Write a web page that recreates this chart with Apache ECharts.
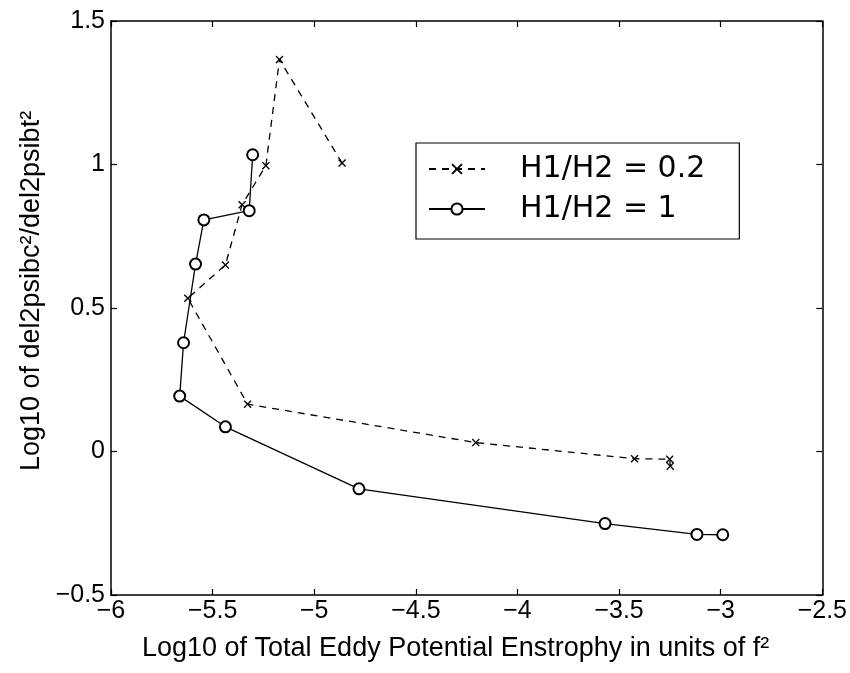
<!DOCTYPE html>
<html>
<head>
<meta charset="utf-8">
<script src="https://cdn.jsdelivr.net/npm/echarts@6/dist/echarts.min.js"></script>
<style>html,body{margin:0;padding:0;background:#fff}#c{width:850px;height:673px}</style>
</head>
<body>
<div id="c"></div>
<script>
// ---- data ----
const seriesNames = ['H1/H2 = 0.2', 'H1/H2 = 1'];
const dashX = [-4.863, -5.171, -5.238, -5.355, -5.437, -5.622, -5.328, -4.205, -3.424, -3.251, -3.248];
const dashY = [1.005, 1.366, 0.996, 0.860, 0.650, 0.534, 0.165, 0.031, -0.025, -0.027, -0.051];
const solidX = [-5.303, -5.320, -5.543, -5.584, -5.643, -5.662, -5.437, -4.78, -3.569, -3.117, -2.99];
const solidY = [1.034, 0.839, 0.807, 0.653, 0.379, 0.193, 0.086, -0.13, -0.251, -0.289, -0.29];
const xTicks = [-6, -5.5, -5, -4.5, -4, -3.5, -3, -2.5];
const yTicks = [-0.5, 0, 0.5, 1, 1.5];
const xTitle = 'Log10 of Total Eddy Potential Enstrophy in units of f\u00B2';
const yTitle = 'Log10 of del2psibc\u00B2/del2psibt\u00B2';

const pair = (xs, ys) => xs.map((x, i) => [x, ys[i]]);
const fmt = v => String(v).replace('-', '\u2212');
const FONT = 'Liberation Sans';
const xMark = 'path://M0,1.2 L1.2,0 L5,3.8 L8.8,0 L10,1.2 L6.2,5 L10,8.8 L8.8,10 L5,6.2 L1.2,10 L0,8.8 L3.8,5 Z';

const axisCommon = {
  axisLine: {onZero: false, lineStyle: {color: '#000', width: 1.5}},
  axisTick: {inside: true, length: 6, lineStyle: {color: '#000', width: 1.2}},
  splitLine: {show: false}
};

const chart = echarts.init(document.getElementById('c'), null, {renderer: 'canvas'});
chart.setOption({
  backgroundColor: '#fff',
  animation: false,
  grid: {left: 111, top: 21, right: 24, bottom: 78, containLabel: false},
  legend: {
    orient: 'vertical',
    left: 416, top: 143,
    padding: [10, 34, 14, 12],
    borderColor: '#000', borderWidth: 1.2,
    itemWidth: 56, itemHeight: 14, itemGap: 8,
    textStyle: {fontFamily: 'DejaVu Sans', fontSize: 30, color: '#000', lineHeight: 32, padding: [0, 0, 0, 30]},
    data: seriesNames
  },
  xAxis: [
    Object.assign({}, axisCommon, {
      type: 'value', min: xTicks[0], max: xTicks[xTicks.length - 1], interval: 0.5,
      position: 'bottom',
      axisLabel: {formatter: fmt, color: '#000', fontFamily: FONT, fontSize: 25, margin: 4},
      name: xTitle, nameLocation: 'middle', nameGap: 40,
      nameTextStyle: {fontFamily: FONT, fontSize: 27, color: '#000', padding: [0, 22, 0, 0]}
    }),
    Object.assign({}, axisCommon, {
      type: 'value', min: xTicks[0], max: xTicks[xTicks.length - 1], interval: 0.5,
      position: 'top', axisLabel: {show: false}
    })
  ],
  yAxis: [
    Object.assign({}, axisCommon, {
      type: 'value', min: yTicks[0], max: yTicks[yTicks.length - 1], interval: 0.5,
      position: 'left',
      axisLabel: {formatter: fmt, color: '#000', fontFamily: FONT, fontSize: 25, margin: 6},
      name: yTitle, nameLocation: 'middle', nameGap: 58,
      nameTextStyle: {fontFamily: FONT, fontSize: 27, color: '#000', padding: [0, 0, 0, 34]}
    }),
    Object.assign({}, axisCommon, {
      type: 'value', min: yTicks[0], max: yTicks[yTicks.length - 1], interval: 0.5,
      position: 'right', axisLabel: {show: false}
    })
  ],
  series: [
    {
      name: seriesNames[0], type: 'line', data: pair(dashX, dashY),
      symbol: xMark, symbolSize: 8,
      itemStyle: {color: '#000'},
      lineStyle: {color: '#000', width: 1.3, type: [7, 6]}
    },
    {
      name: seriesNames[1], type: 'line', data: pair(solidX, solidY),
      symbol: 'emptyCircle', symbolSize: 11,
      itemStyle: {color: '#000', borderColor: '#000', borderWidth: 1.2},
      lineStyle: {color: '#000', width: 1.3, type: 'solid'}
    }
  ]
});
</script>
</body>
</html>
